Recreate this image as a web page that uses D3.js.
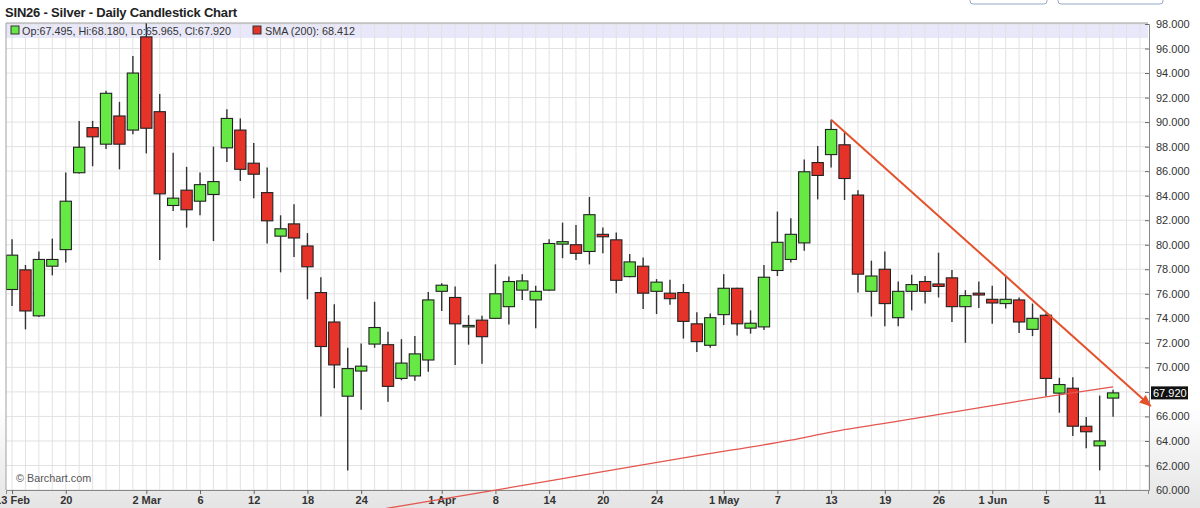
<!DOCTYPE html>
<html>
<head>
<meta charset="utf-8">
<script src="https://cdn.jsdelivr.net/npm/d3@7"></script>
<style>
  body { margin: 0; background: #fff; }
  svg { display: block; font-family: "Liberation Sans", Arial, sans-serif; }
</style>
</head>
<body>
<div id="chart"></div>
<script>
// Width and height of chart
const width = 1200;
const height = 508;

// daily bars, one per trading day from 13 Feb
const opens  = [76.35, 77.95, 74.2, 78.25, 79.6, 85.87, 89.55, 88.2, 90.5, 89.35,
  96.95, 90.85, 83.2, 84.45, 83.55, 84.1, 87.9, 89.35, 86.65, 84.25,
  80.7, 81.7, 79.9, 76.1, 73.7, 67.65, 69.7, 71.9, 71.85, 69.1,
  69.3, 70.6, 76.2, 75.7, 73.4, 73.85, 74.0, 74.95, 76.3, 75.5,
  76.3, 80.05, 80.0, 79.45, 80.85, 80.4, 77.4, 78.25, 76.2, 76.05,
  76.1, 73.55, 71.8, 74.3, 76.45, 73.2, 73.3, 77.9, 78.8, 80.15,
  86.7, 87.35, 88.15, 84.05, 76.2, 78.0, 74.05, 76.2, 77.0, 76.8,
  77.3, 74.95, 76.05, 75.55, 75.2, 75.5, 73.1, 74.25, 67.9, 68.3,
  65.2, 63.6, 67.495];
const highs  = [80.45, 78.35, 79.45, 80.5, 85.9, 90.1, 90.1, 92.55, 91.65, 95.4,
  98.6, 92.3, 87.5, 86.35, 85.9, 88.0, 91.05, 90.3, 88.3, 86.3,
  82.4, 83.3, 80.95, 77.35, 75.15, 71.6, 71.95, 75.35, 72.9, 72.3,
  72.55, 76.15, 76.85, 76.6, 74.25, 74.2, 78.4, 77.4, 77.6, 76.65,
  80.45, 81.8, 81.6, 83.9, 81.4, 81.0, 79.25, 78.95, 77.2, 77.15,
  76.8, 74.5, 74.4, 77.6, 76.5, 74.65, 78.35, 82.7, 82.15, 86.95,
  88.05, 90.2, 89.15, 84.45, 78.7, 79.45, 77.0, 77.55, 77.45, 79.35,
  77.95, 76.3, 77.0, 76.65, 77.5, 75.7, 75.2, 74.4, 69.15, 69.2,
  65.95, 67.7, 68.18];
const lows   = [75.0, 73.1, 74.1, 77.5, 78.55, 85.8, 86.4, 87.8, 86.15, 89.0,
  87.45, 78.75, 82.75, 81.4, 82.4, 80.3, 86.75, 85.2, 83.8, 80.1,
  77.75, 79.0, 75.55, 66.0, 68.3, 61.6, 66.55, 71.6, 67.2, 68.95,
  68.9, 69.65, 74.6, 70.2, 71.85, 70.3, 73.95, 73.5, 75.5, 73.2,
  76.25, 78.9, 78.75, 78.4, 79.3, 76.05, 77.35, 74.75, 74.35, 75.1,
  72.35, 71.25, 71.6, 73.45, 72.6, 72.75, 73.05, 77.45, 78.55, 79.5,
  83.7, 86.3, 83.65, 76.1, 74.15, 73.35, 73.35, 74.65, 75.2, 75.7,
  73.7, 72.0, 74.85, 73.55, 74.8, 72.8, 72.55, 67.65, 66.3, 64.4,
  63.4, 61.6, 65.965];
const closes = [79.15, 74.6, 78.8, 78.8, 83.55, 87.95, 88.8, 92.35, 88.2, 94.0,
  89.5, 84.15, 83.8, 82.85, 84.9, 85.15, 90.3, 86.15, 85.75, 81.95,
  81.3, 80.55, 78.2, 71.7, 70.2, 69.9, 70.1, 73.25, 68.45, 70.35,
  71.1, 75.5, 76.7, 73.55, 73.42, 72.5, 76.0, 77.0, 77.05, 76.2,
  80.1, 80.25, 79.3, 82.45, 80.65, 77.1, 78.6, 76.05, 76.95, 75.6,
  73.75, 72.1, 74.05, 76.45, 73.55, 73.6, 77.35, 80.2, 80.85, 85.95,
  85.65, 89.4, 85.4, 77.6, 77.45, 75.2, 76.2, 76.75, 76.2, 76.6,
  74.95, 75.85, 75.9, 75.25, 75.55, 73.7, 74.0, 69.1, 68.6, 65.2,
  64.75, 64.0, 67.92];

// 200-day SMA, read at a few bars
const smaIdx = [26, 28, 36, 44, 51, 58, 61, 66, 73, 77, 82];
const smaVal = [58.15, 58.52, 59.99, 61.5, 62.8, 64.07, 64.72, 65.62, 66.88, 67.6, 68.41];

// hand-drawn trendline (bar index, price)
const trendIdx = [61, 84.8];
const trendVal = [90.2, 66.85];

// x axis tick labels
const tickIdx = [0, 4, 10, 14, 18, 22, 26, 32, 36, 40, 44, 48, 53, 57, 61, 65, 69, 73, 77, 81];
const tickLabels = ["13 Feb", "20", "2 Mar", "6", "12", "18", "24", "1 Apr", "8", "14",
  "20", "24", "1 May", "7", "13", "19", "26", "1 Jun", "5", "11"];

const yTicks = d3.range(60, 98.001, 2);

const plot = { left: 6, right: 1148, top: 23, bottom: 490 };
const upColor = "#66e845";
const downColor = "#e5332a";

const svg = d3.select("div#chart")
    .append("svg")
    .attr("width", width)
    .attr("height", height);

const defs = svg.append("defs");

const bg = defs.append("linearGradient")
    .attr("id", "bg")
    .attr("x1", 0).attr("y1", 0).attr("x2", 0).attr("y2", 1);
bg.append("stop").attr("offset", "0.8").attr("stop-color", "#ffffff");
bg.append("stop").attr("offset", "1").attr("stop-color", "#e4e4e4");

defs.append("clipPath").attr("id", "plotclip")
  .append("rect")
    .attr("x", plot.left).attr("y", plot.top)
    .attr("width", plot.right - plot.left)
    .attr("height", plot.bottom - plot.top);

defs.append("marker")
    .attr("id", "arrow")
    .attr("viewBox", "0 0 12 10")
    .attr("refX", 11).attr("refY", 5)
    .attr("markerWidth", 6).attr("markerHeight", 5)
    .attr("orient", "auto")
  .append("path")
    .attr("d", "M0,0 L12,5 L0,10 z")
    .attr("fill", "#e4522c");

svg.append("rect")
    .attr("width", width).attr("height", height)
    .attr("fill", "url(#bg)");

// scales
const x = d3.scaleLinear().domain([-0.45, 84.6]).range([plot.left, plot.right]);
const y = d3.scaleLinear().domain([60, 98]).range([plot.bottom, 24]);
const step = x(1) - x(0);
const bodyW = step * 0.84;

const last = closes[closes.length - 1];

// buttons cut off at the top
svg.selectAll("rect.btn")
    .data([[970, 77], [1058, 105]])
    .enter().append("rect")
    .attr("class", "btn")
    .attr("x", d => d[0]).attr("y", -10)
    .attr("width", d => d[1]).attr("height", 14)
    .attr("rx", 3)
    .attr("fill", "#fff")
    .attr("stroke", "#94a9c7");

svg.append("text")
    .attr("x", 5).attr("y", 17)
    .attr("font-size", 13)
    .attr("font-weight", "bold")
    .attr("letter-spacing", -0.2)
    .attr("fill", "#222")
    .text("SIN26 - Silver - Daily Candlestick Chart");

// plot background
svg.append("rect")
    .attr("x", plot.left).attr("y", plot.top)
    .attr("width", plot.right - plot.left)
    .attr("height", plot.bottom - plot.top)
    .attr("fill", "#fff");

// legend band
svg.append("rect")
    .attr("x", plot.left).attr("y", plot.top)
    .attr("width", plot.right - plot.left)
    .attr("height", 15)
    .attr("fill", "#e8e8fa");

// grid
const grid = svg.append("g");
grid.selectAll("line.v")
    .data(d3.range(0, 85))
    .enter().append("line")
    .attr("x1", d => x(d)).attr("x2", d => x(d))
    .attr("y1", plot.top).attr("y2", plot.bottom)
    .attr("stroke", "#e2e2e2");
grid.selectAll("line.h")
    .data(yTicks)
    .enter().append("line")
    .attr("x1", plot.left).attr("x2", plot.right)
    .attr("y1", d => y(d)).attr("y2", d => y(d))
    .attr("stroke", "#e2e2e2");

// legend text
const legend = svg.append("g").attr("font-size", 10.8).attr("fill", "#333");
legend.append("rect")
    .attr("x", 11).attr("y", 26).attr("width", 8).attr("height", 8)
    .attr("fill", upColor).attr("stroke", "#333");
legend.append("text").attr("x", 22).attr("y", 34.5)
    .text("Op:67.495, Hi:68.180, Lo:65.965, Cl:67.920");
legend.append("rect")
    .attr("x", 253).attr("y", 26).attr("width", 8).attr("height", 8)
    .attr("fill", downColor).attr("stroke", "#333");
legend.append("text").attr("x", 265).attr("y", 34.5)
    .text("SMA (200): 68.412");

svg.append("text")
    .attr("x", 16).attr("y", 482)
    .attr("font-size", 10.8)
    .attr("fill", "#555")
    .text("\u00a9 Barchart.com");

// candles
const bars = d3.range(opens.length);
const candles = svg.append("g").attr("clip-path", "url(#plotclip)");

candles.selectAll("line.wick")
    .data(bars)
    .enter().append("line")
    .attr("x1", i => x(i)).attr("x2", i => x(i))
    .attr("y1", i => y(highs[i])).attr("y2", i => y(lows[i]))
    .attr("stroke", "#333")
    .attr("stroke-width", 1.4);

candles.selectAll("rect.body")
    .data(bars)
    .enter().append("rect")
    .attr("x", i => x(i) - bodyW / 2)
    .attr("width", bodyW)
    .attr("y", i => y(Math.max(opens[i], closes[i])))
    .attr("height", i => Math.max(1.5, Math.abs(y(opens[i]) - y(closes[i]))))
    .attr("fill", i => closes[i] >= opens[i] ? upColor : downColor)
    .attr("stroke", "#222")
    .attr("stroke-width", 1.1);

// plot frame
svg.append("path")
    .attr("d", `M${plot.left},${plot.bottom}V${plot.top}H${plot.right}`)
    .attr("fill", "none")
    .attr("stroke", "#a0a0a0");

// right axis; the label under the last price box is hidden
const yAxis = svg.append("g")
    .attr("transform", `translate(${plot.right + 1},0)`)
    .call(d3.axisRight(y).tickValues(yTicks)
      .tickFormat(d => Math.abs(y(d) - y(last)) < 10 ? "" : d3.format(".3f")(d))
      .tickSize(-4).tickPadding(7));
yAxis.select(".domain").attr("stroke", "#888");
yAxis.selectAll(".tick line").attr("stroke", "#666");
yAxis.selectAll("text")
    .attr("font-family", "Liberation Sans, Arial, sans-serif")
    .attr("font-size", 11).attr("fill", "#333");

// bottom axis
const xAxis = svg.append("g")
    .attr("transform", `translate(0,${plot.bottom})`)
    .call(d3.axisBottom(x).tickValues(tickIdx)
      .tickFormat((d, i) => tickLabels[i]).tickSizeOuter(0).tickSize(4).tickPadding(2));
xAxis.select(".domain").attr("stroke", "#888");
xAxis.selectAll(".tick line").attr("stroke", "#666");
xAxis.selectAll("text")
    .attr("font-family", "Liberation Sans, Arial, sans-serif")
    .attr("font-size", 11).attr("font-weight", "bold").attr("fill", "#333");

// SMA line, not clipped
svg.append("path")
    .datum(smaIdx.map((d, i) => [d, smaVal[i]]))
    .attr("d", d3.line().x(d => x(d[0])).y(d => y(d[1])).curve(d3.curveMonotoneX))
    .attr("fill", "none")
    .attr("stroke", "#e4564e")
    .attr("stroke-width", 1.3);

// trendline with arrow
svg.append("path")
    .datum(trendIdx.map((d, i) => [d, trendVal[i]]))
    .attr("d", d3.line().x(d => x(d[0])).y(d => y(d[1])))
    .attr("fill", "none")
    .attr("stroke", "#e4522c")
    .attr("stroke-width", 2)
    .attr("marker-end", "url(#arrow)");

// last price box
svg.append("rect")
    .attr("x", plot.right + 3).attr("y", y(last) - 6.5)
    .attr("width", 37).attr("height", 13)
    .attr("fill", "#111");
svg.append("text")
    .attr("x", plot.right + 5).attr("y", y(last) + 4)
    .attr("font-size", 11).attr("fill", "#fff")
    .text(d3.format(".3f")(last));
</script>
</body>
</html>
